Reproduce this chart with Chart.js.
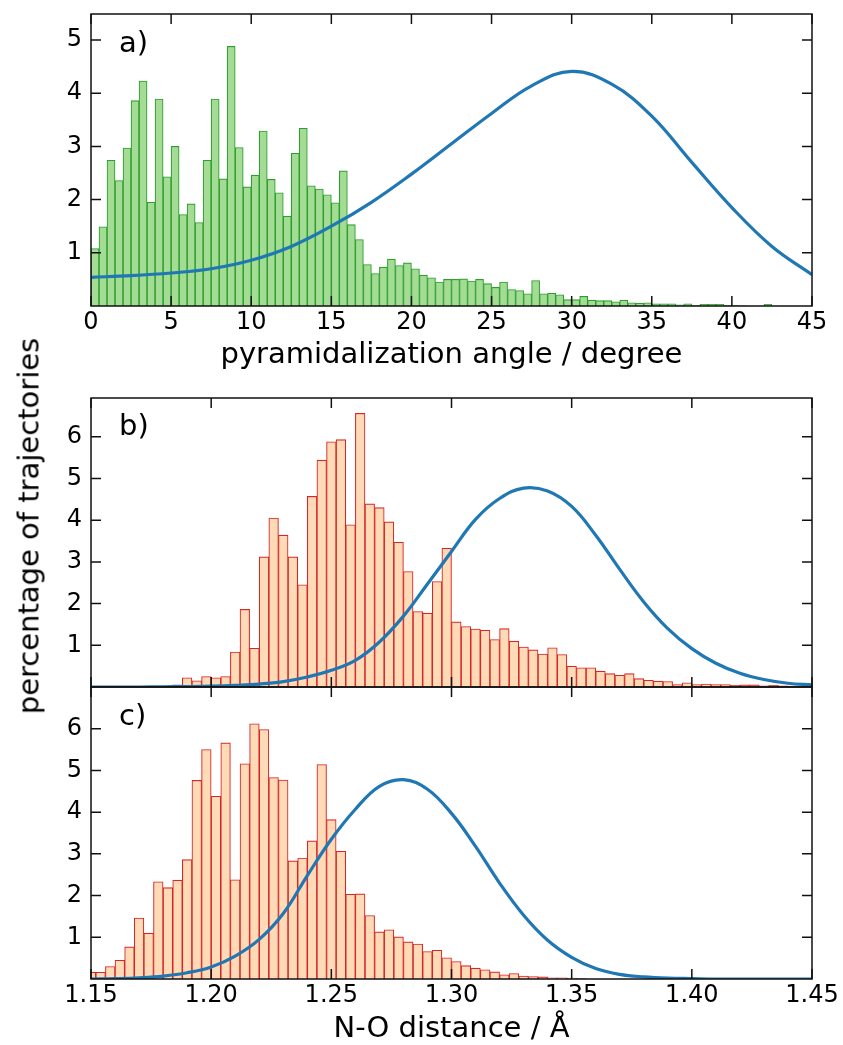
<!DOCTYPE html>
<html><head><meta charset="utf-8">
<script src="https://cdn.jsdelivr.net/npm/chart.js@4.4.1/dist/chart.umd.min.js"></script>
<style>
html,body{margin:0;padding:0;background:#fff;}
body{width:843px;height:1045px;position:relative;overflow:hidden;font-family:'DejaVu Sans';}
canvas{position:absolute;left:0;top:0;}
#ylab{position:absolute;left:29px;top:526px;transform:translate(-50%,-50%) rotate(-90deg);font-size:29px;line-height:1;white-space:nowrap;color:#000;font-family:'DejaVu Sans';}
</style></head><body>
<canvas id="ca" width="843" height="1045"></canvas>
<canvas id="cb" width="843" height="1045"></canvas>
<canvas id="cc" width="843" height="1045"></canvas>
<div id="ylab">percentage of trajectories</div>
<script>
// ---------- data ----------
const angleBinStart = 0, angleBinWidth = 0.5;
const angleHist = [1.08,1.49,2.74,2.36,2.97,3.86,4.23,1.95,3.89,2.43,
  3.00,1.72,1.92,1.57,2.74,3.89,2.39,4.88,2.98,2.24,
  2.46,3.29,2.38,2.13,1.69,2.87,3.34,2.26,2.20,2.09,
  1.94,2.54,1.53,1.25,0.78,0.61,0.73,0.88,0.76,0.81,
  0.70,0.58,0.53,0.45,0.50,0.50,0.51,0.47,0.50,0.42,
  0.35,0.45,0.31,0.29,0.23,0.48,0.23,0.24,0.21,0.12,
  0.12,0.18,0.11,0.10,0.10,0.08,0.11,0.06,0.05,0.06,
  0.04,0.04,0.04,0.02,0.04,0.01,0.03,0.03,0.03,0.01,
  0.01,0.005,0,0,0.03,0,0,0,0,0];
const angleCurveX = [0,2.5,5,7.5,10,12.5,15,17.5,20,22.5,25,27.5,30,32.5,35,37.5,40,42.5,45];
const angleCurveY = [0.54,0.57,0.62,0.70,0.86,1.12,1.50,1.95,2.48,3.05,3.62,4.14,4.41,4.17,3.57,2.70,1.85,1.12,0.59];

const noBinStart = 1.148, noBinWidth = 0.004;
const noHistB = [0,0,0,0,0,0,0,0,0.02,0.05,
  0.22,0.15,0.25,0.22,0.25,0.84,1.86,0.93,3.12,4.05,
  3.64,3.12,2.45,4.57,5.44,5.88,5.93,3.89,6.56,4.39,
  4.30,3.96,3.47,2.77,1.81,1.77,2.53,3.33,1.56,1.45,
  1.39,1.36,1.14,1.40,1.10,0.96,0.89,0.79,0.94,0.78,
  0.50,0.46,0.46,0.38,0.32,0.28,0.32,0.20,0.16,0.14,
  0.13,0.06,0.10,0.06,0.07,0.06,0.06,0.04,0.05,0.05,
  0.03,0.04,0.03,0.02,0.02,0.01];
const noHistC = [0.16,0.16,0.30,0.45,0.77,1.46,1.10,2.33,2.19,2.37,
  2.86,4.76,5.50,4.38,5.66,2.38,5.16,6.12,5.98,4.83,
  4.77,2.83,2.90,3.31,5.14,3.82,3.06,2.03,2.04,1.52,
  1.13,1.18,1.01,0.89,0.84,0.66,0.69,0.51,0.42,0.32,
  0.26,0.22,0.17,0.10,0.13,0.07,0.06,0.05,0.03,0.03,
  0.02,0.01,0,0,0,0,0,0,0,0,
  0,0,0,0,0,0,0,0,0,0,
  0,0,0,0,0,0];
const curveNOX = [1.15,1.16,1.17,1.18,1.19,1.20,1.21,1.22,1.23,1.24,1.25,1.26,1.27,1.28,1.29,1.30,
  1.31,1.32,1.33,1.34,1.35,1.36,1.37,1.38,1.39,1.40,1.41,1.42,1.43,1.44,1.45];
const curveBY = [0,0,0,0.005,0.01,0.02,0.04,0.07,0.13,0.24,0.40,0.64,1.08,1.70,2.47,3.25,
  4.02,4.52,4.77,4.70,4.33,3.64,2.82,2.04,1.40,0.92,0.57,0.33,0.18,0.09,0.05];
const curveCY = [0,0.01,0.03,0.07,0.15,0.29,0.55,0.95,1.57,2.48,3.35,4.07,4.62,4.78,4.55,3.97,
  3.18,2.30,1.53,0.93,0.52,0.25,0.11,0.05,0.02,0.01,0,0,0,0,0];

const angleTicks = [0,5,10,15,20,25,30,35,40,45];
const noTicks = [1.15,1.20,1.25,1.30,1.35,1.40,1.45];
const yTicksA = [1,2,3,4,5];
const yTicksBC = [1,2,3,4,5,6];

// ---------- helpers ----------
Chart.defaults.font.family = "'DejaVu Sans'";
Chart.defaults.color = '#000';

const framePlugin = {
  id: 'frame',
  afterDatasetsDraw(chart, args, opts) {
    const {ctx, chartArea: {left, right, top, bottom}, scales: {x, y}} = chart;
    const L = 10;
    ctx.save();
    ctx.strokeStyle = '#111';
    ctx.lineWidth = 1.5;
    ctx.beginPath();
    x.ticks.forEach(t => {
      const p = x.getPixelForValue(t.value);
      ctx.moveTo(p, bottom); ctx.lineTo(p, bottom - L);
      ctx.moveTo(p, top); ctx.lineTo(p, top + L);
    });
    y.ticks.forEach(t => {
      const p = y.getPixelForValue(t.value);
      ctx.moveTo(left, p); ctx.lineTo(left + L, p);
      ctx.moveTo(right, p); ctx.lineTo(right - L, p);
    });
    ctx.stroke();
    ctx.strokeRect(left, top, right - left, bottom - top);
    ctx.fillStyle = '#000';
    ctx.font = "29px 'DejaVu Sans'";
    ctx.textBaseline = 'middle';
    ctx.textAlign = 'left';
    ctx.fillText(opts.label, left + 28, top + 0.1 * (bottom - top) + 1);
    ctx.restore();
  }
};

function makeChart(id, cfg) {
  const hist = cfg.heights.map((h, i) => ({x: cfg.binStart + (i + 0.5) * cfg.binWidth, y: h}));
  const curve = cfg.curveX.map((v, i) => ({x: v, y: cfg.curveY[i]}));
  return new Chart(document.getElementById(id), {
    type: 'bar',
    data: {
      datasets: [
        {type: 'line', data: curve, borderColor: '#1f77b4', borderWidth: 3.2, pointRadius: 0,
         tension: 0.4, fill: false, order: 0, clip: 0},
        {type: 'bar', data: hist, backgroundColor: cfg.fill, borderColor: cfg.edge, borderWidth: 1.1,
         barPercentage: 1, categoryPercentage: 1, order: 1, clip: 0, grouped: false}
      ]
    },
    options: {
      responsive: false, animation: false, devicePixelRatio: 1, events: [],
      layout: {padding: {left: 0, right: 31, top: cfg.top, bottom: cfg.padBottom}},
      plugins: {legend: {display: false}, tooltip: {enabled: false}, frame: {label: cfg.label}},
      scales: {
        x: {
          type: 'linear', min: cfg.xMin, max: cfg.xMax, offset: false,
          grid: {display: false, drawTicks: false}, border: {display: false},
          afterBuildTicks: s => { s.ticks = cfg.xTicks.map(v => ({value: v})); },
          afterFit: s => { s.height = cfg.xHeight; s.paddingLeft = 0; s.paddingRight = 0; },
          ticks: {display: cfg.showX, font: {size: 24}, color: '#000', padding: 2, maxRotation: 0, autoSkip: false,
                  callback: v => cfg.xFmt(v)},
          title: {display: !!cfg.xTitle, text: cfg.xTitle, font: {size: 29, lineHeight: 1}, color: '#000', padding: 0}
        },
        y: {
          type: 'linear', min: 0, max: cfg.yMax,
          grid: {display: false, drawTicks: false}, border: {display: false},
          afterBuildTicks: s => { s.ticks = cfg.yTicks.map(v => ({value: v})); },
          afterFit: s => { s.width = 91; s.paddingTop = 0; s.paddingBottom = 0; },
          ticks: {font: {size: 24}, color: '#000', padding: 9, callback: v => String(v)}
        }
      }
    },
    plugins: [framePlugin]
  });
}

makeChart('ca', {
  heights: angleHist, binStart: angleBinStart, binWidth: angleBinWidth,
  curveX: angleCurveX, curveY: angleCurveY,
  fill: '#a4dc96', edge: '#2ca02c',
  top: 14, xHeight: 63.5, padBottom: 1045 - 306 - 63.5,
  xMin: 0, xMax: 45, xTicks: angleTicks, showX: true, xFmt: v => String(v),
  xTitle: 'pyramidalization angle / degree',
  yMax: 5.49, yTicks: yTicksA, label: 'a)'
});
makeChart('cb', {
  heights: noHistB, binStart: noBinStart, binWidth: noBinWidth,
  curveX: curveNOX, curveY: curveBY,
  fill: '#ffdab6', edge: '#d62728',
  top: 398, xHeight: 10, padBottom: 1045 - 687 - 10,
  xMin: 1.15, xMax: 1.45, xTicks: noTicks, showX: false, xFmt: v => v.toFixed(2),
  xTitle: '',
  yMax: 6.93, yTicks: yTicksBC, label: 'b)'
});
makeChart('cc', {
  heights: noHistC, binStart: noBinStart, binWidth: noBinWidth,
  curveX: curveNOX, curveY: curveCY,
  fill: '#ffdab6', edge: '#d62728',
  top: 687, xHeight: 65, padBottom: 1045 - 979 - 65,
  xMin: 1.15, xMax: 1.45, xTicks: noTicks, showX: true, xFmt: v => v.toFixed(2),
  xTitle: 'N-O distance / Å',
  yMax: 7.0, yTicks: yTicksBC, label: 'c)'
});
</script>
</body></html>
